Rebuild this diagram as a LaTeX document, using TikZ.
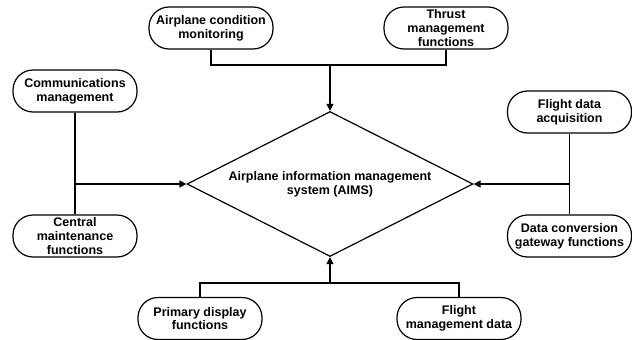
\documentclass[tikz,border=0pt]{standalone}
\usepackage{fontspec}
\setmainfont{Liberation Sans}
\usetikzlibrary{shapes.geometric,arrows.meta}
\tikzset{
  txt/.style={font=\fontsize{12.5}{13.8}\selectfont\bfseries, align=center},
  pill/.style={txt, draw, line width=1.2pt, rounded corners=20pt, minimum width=124pt, minimum height=42pt, inner sep=0pt},
  link/.style={line width=1.2pt},
  arr/.style={link, -{Triangle[length=7pt,width=7pt]}}
}
\begin{document}
\begin{tikzpicture}[x=1pt,y=-1pt]
\useasboundingbox (0,0) rectangle (632,340);
\node[pill] (acm) at (211,28) {Airplane condition\\monitoring};
\node[pill] (tmf) at (446,28) {Thrust\\management\\functions};
\node[pill] (com) at (75,91) {Communications\\management};
\node[pill] (cmf) at (75,236) {Central\\maintenance\\functions};
\node[pill] (fda) at (569.5,112) {Flight data\\acquisition};
\node[pill] (dcg) at (569.5,236) {Data conversion\\gateway functions};
\node[pill] (pdf) at (200,318.5) {Primary display\\functions};
\node[pill] (fmd) at (459,318.5) {Flight\\management data};
\node[txt, draw, diamond, line width=1.2pt, aspect=2, inner sep=0pt, minimum width=286pt, minimum height=145pt] (aims) at (330,184) {Airplane information management\\system (AIMS)};
\coordinate (jt) at (330,65);
\coordinate (jb) at (330,283);
\draw[link] (acm.south) |- (jt);
\draw[link] (tmf.south) |- (jt);
\draw[arr] (jt) -- (aims.north);
\draw[link] (com.south) -- (cmf.north);
\draw[arr] (com.south |- aims.west) -- (aims.west);
\draw[link] (fda.south) -- (dcg.north);
\draw[arr] (fda.south |- aims.east) -- (aims.east);
\draw[link] (pdf.north) |- (jb);
\draw[link] (fmd.north) |- (jb);
\draw[arr] (jb) -- (aims.south);
\end{tikzpicture}
\end{document}
